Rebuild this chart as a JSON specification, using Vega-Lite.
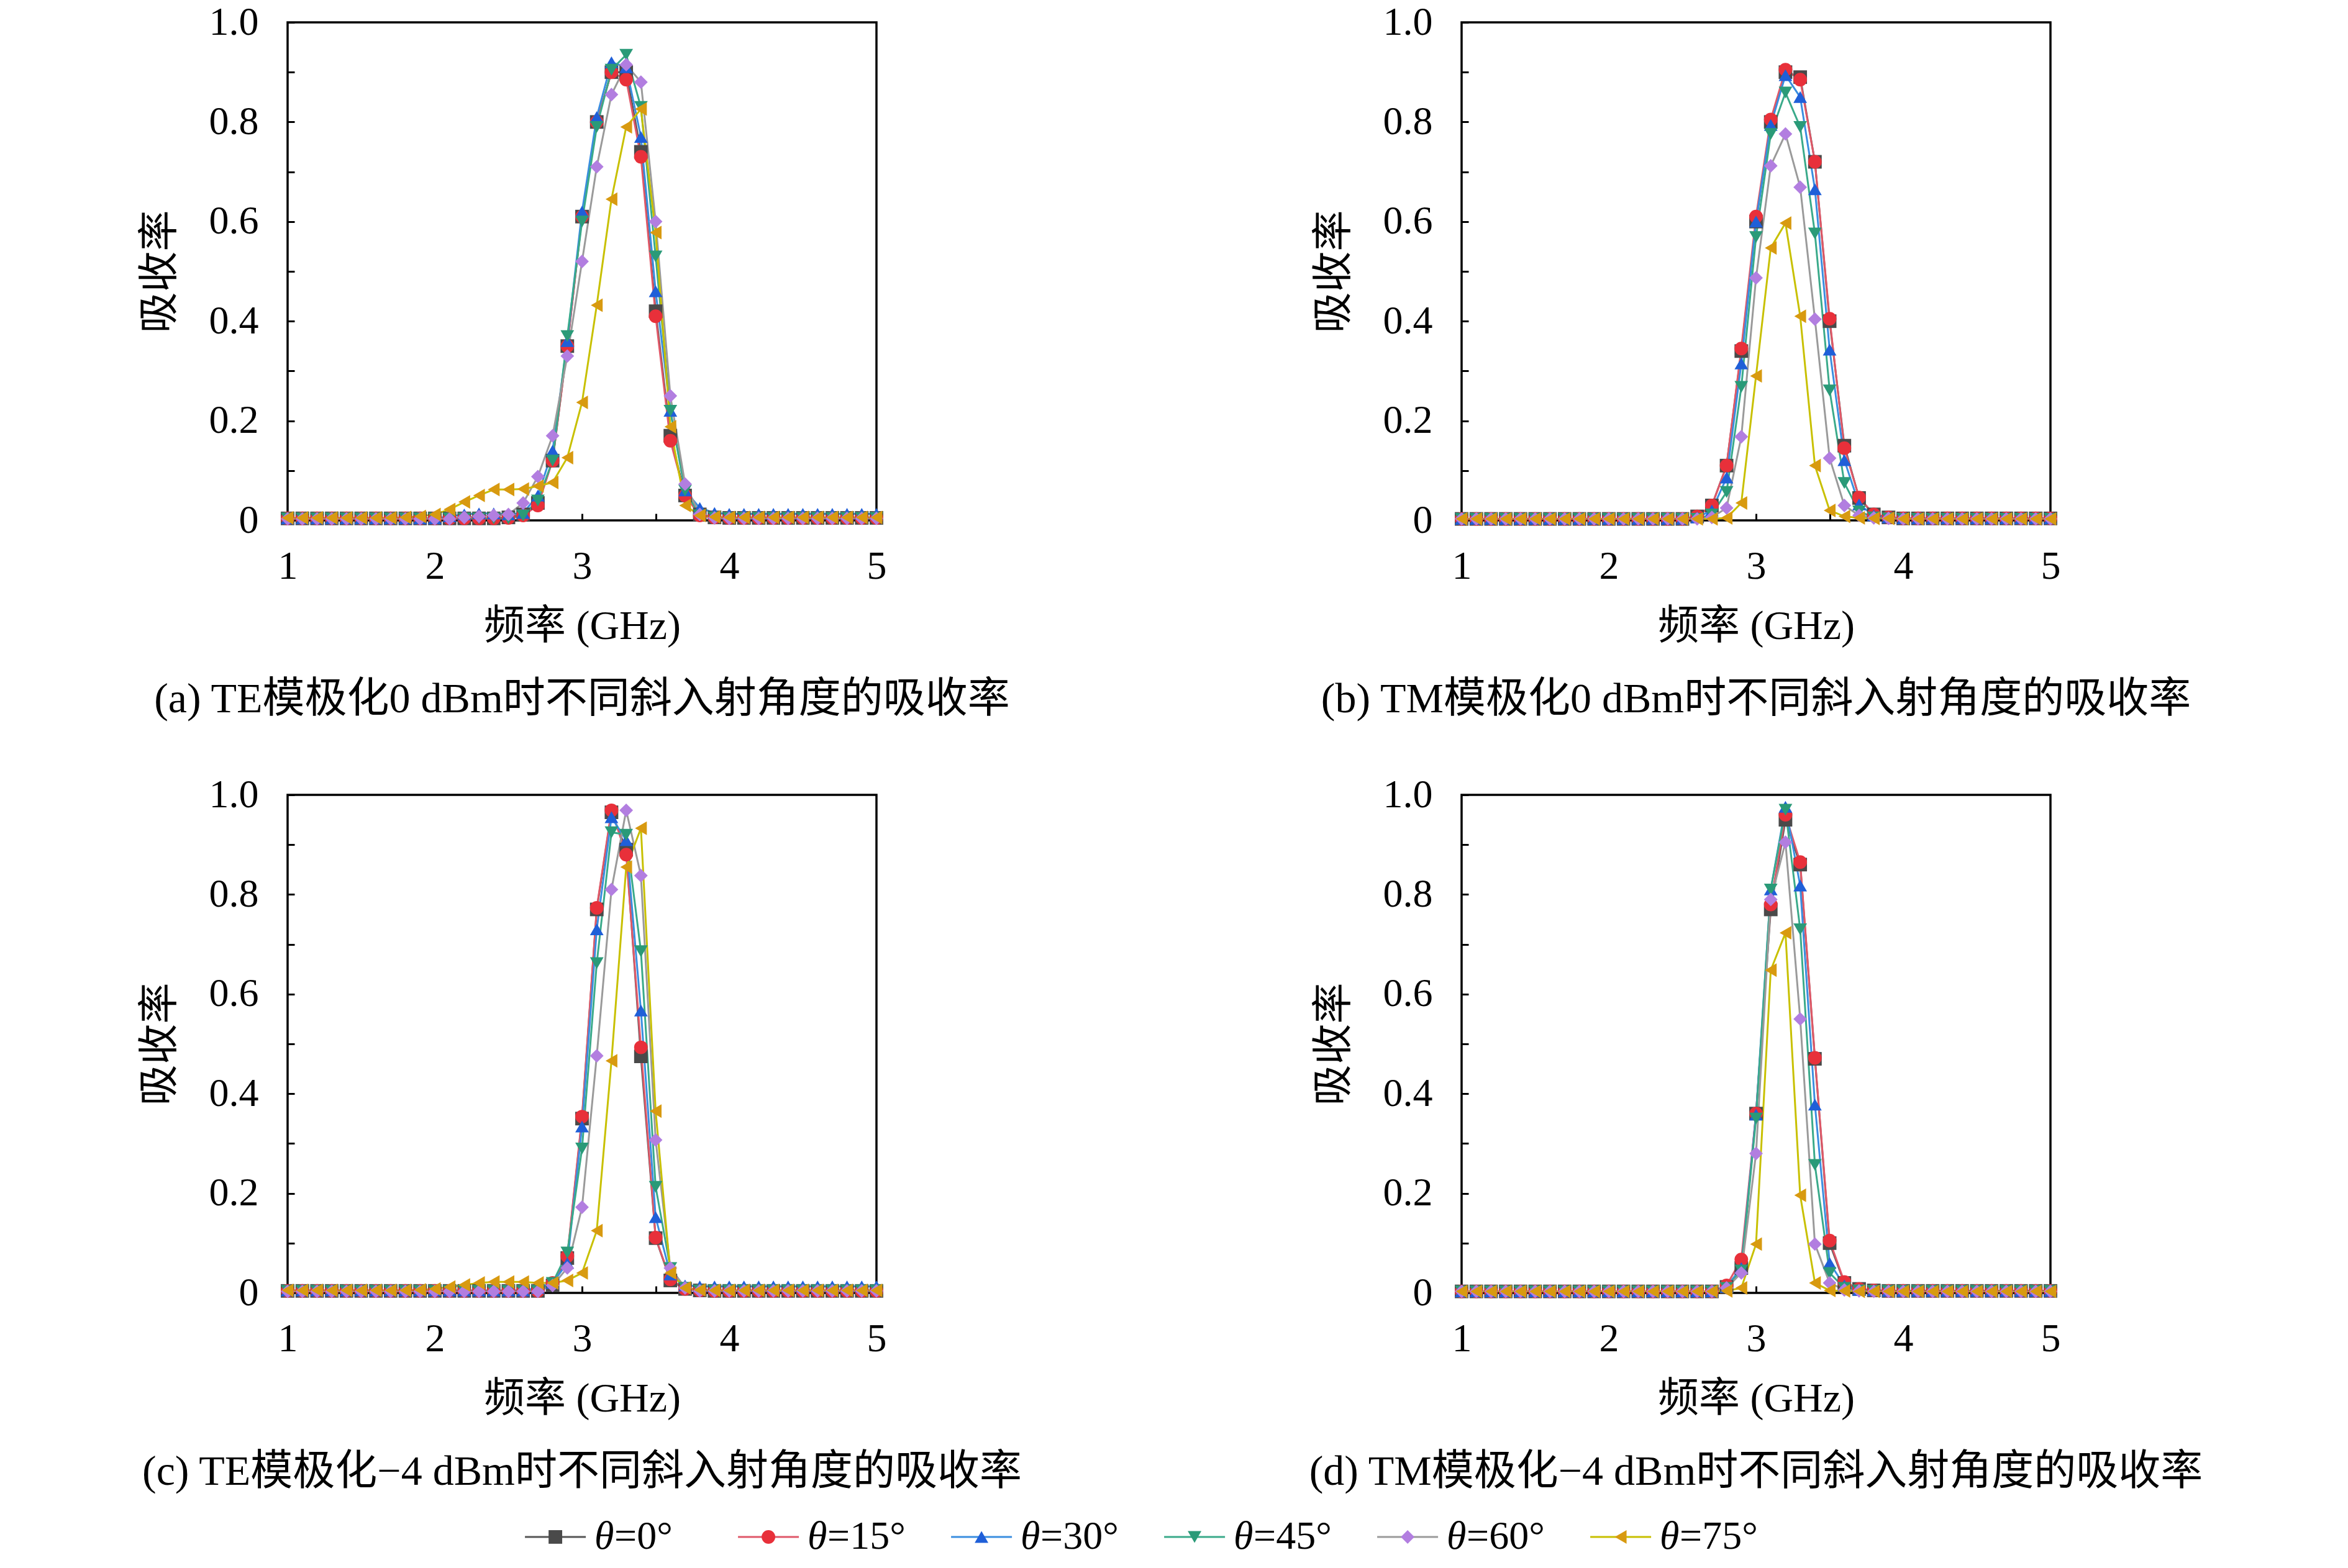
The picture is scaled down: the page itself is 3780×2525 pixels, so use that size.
{
  "$schema": "https://vega.github.io/schema/vega-lite/v6.json",
  "background": "white",
  "padding": {"left": 222, "top": 2, "right": 10, "bottom": 4},
  "config": {
    "font": "Liberation Serif, Noto Sans CJK SC",
    "view": {"stroke": "black", "strokeWidth": 3.5},
    "axis": {
      "grid": false, "domain": false,
      "tickColor": "black", "tickWidth": 3, "tickSize": -11,
      "labelFont": "Liberation Serif", "labelFontSize": 64, "labelColor": "black",
      "labelFlush": false, "labelOverlap": false,
      "titleFont": "Liberation Serif, Noto Sans CJK SC", "titleFontSize": 66,
      "titleFontWeight": "normal", "titleColor": "black"
    },
    "axisX": {"labelPadding": 53, "titlePadding": 32},
    "axisY": {"labelPadding": 58, "titlePadding": 45},
    "title": {"font": "Liberation Serif, Noto Sans CJK SC", "fontSize": 68, "fontWeight": "normal", "color": "black"}
  },
  "datasets": {
    "legend": [
      {"t":0,"rest":"=0°"},{"t":15,"rest":"=15°"},{"t":30,"rest":"=30°"},{"t":45,"rest":"=45°"},{"t":60,"rest":"=60°"},{"t":75,"rest":"=75°"}
    ],
    "a": [
      {"t":0,"f":1,"v":0.004},{"t":0,"f":1.1,"v":0.004},{"t":0,"f":1.2,"v":0.004},{"t":0,"f":1.3,"v":0.004},{"t":0,"f":1.4,"v":0.004},{"t":0,"f":1.5,"v":0.004},{"t":0,"f":1.6,"v":0.004},{"t":0,"f":1.7,"v":0.004},{"t":0,"f":1.8,"v":0.004},{"t":0,"f":1.9,"v":0.004},{"t":0,"f":2,"v":0.004},{"t":0,"f":2.1,"v":0.004},{"t":0,"f":2.2,"v":0.004},{"t":0,"f":2.3,"v":0.004},{"t":0,"f":2.4,"v":0.004},{"t":0,"f":2.5,"v":0.006},{"t":0,"f":2.6,"v":0.012},{"t":0,"f":2.7,"v":0.035},{"t":0,"f":2.8,"v":0.12},{"t":0,"f":2.9,"v":0.35},{"t":0,"f":3,"v":0.61},{"t":0,"f":3.1,"v":0.8},{"t":0,"f":3.2,"v":0.9},{"t":0,"f":3.3,"v":0.9},{"t":0,"f":3.4,"v":0.74},{"t":0,"f":3.5,"v":0.42},{"t":0,"f":3.6,"v":0.17},{"t":0,"f":3.7,"v":0.05},{"t":0,"f":3.8,"v":0.012},{"t":0,"f":3.9,"v":0.006},{"t":0,"f":4,"v":0.005},{"t":0,"f":4.1,"v":0.005},{"t":0,"f":4.2,"v":0.005},{"t":0,"f":4.3,"v":0.005},{"t":0,"f":4.4,"v":0.005},{"t":0,"f":4.5,"v":0.005},{"t":0,"f":4.6,"v":0.005},{"t":0,"f":4.7,"v":0.005},{"t":0,"f":4.8,"v":0.005},{"t":0,"f":4.9,"v":0.005},{"t":0,"f":5,"v":0.005},
      {"t":15,"f":1,"v":0.004},{"t":15,"f":1.1,"v":0.004},{"t":15,"f":1.2,"v":0.004},{"t":15,"f":1.3,"v":0.004},{"t":15,"f":1.4,"v":0.004},{"t":15,"f":1.5,"v":0.004},{"t":15,"f":1.6,"v":0.004},{"t":15,"f":1.7,"v":0.004},{"t":15,"f":1.8,"v":0.004},{"t":15,"f":1.9,"v":0.004},{"t":15,"f":2,"v":0.004},{"t":15,"f":2.1,"v":0.004},{"t":15,"f":2.2,"v":0.004},{"t":15,"f":2.3,"v":0.004},{"t":15,"f":2.4,"v":0.004},{"t":15,"f":2.5,"v":0.005},{"t":15,"f":2.6,"v":0.01},{"t":15,"f":2.7,"v":0.03},{"t":15,"f":2.8,"v":0.12},{"t":15,"f":2.9,"v":0.35},{"t":15,"f":3,"v":0.61},{"t":15,"f":3.1,"v":0.8},{"t":15,"f":3.2,"v":0.9},{"t":15,"f":3.3,"v":0.885},{"t":15,"f":3.4,"v":0.73},{"t":15,"f":3.5,"v":0.41},{"t":15,"f":3.6,"v":0.16},{"t":15,"f":3.7,"v":0.05},{"t":15,"f":3.8,"v":0.01},{"t":15,"f":3.9,"v":0.006},{"t":15,"f":4,"v":0.005},{"t":15,"f":4.1,"v":0.005},{"t":15,"f":4.2,"v":0.005},{"t":15,"f":4.3,"v":0.005},{"t":15,"f":4.4,"v":0.005},{"t":15,"f":4.5,"v":0.005},{"t":15,"f":4.6,"v":0.005},{"t":15,"f":4.7,"v":0.005},{"t":15,"f":4.8,"v":0.005},{"t":15,"f":4.9,"v":0.005},{"t":15,"f":5,"v":0.005},
      {"t":30,"f":1,"v":0.004},{"t":30,"f":1.1,"v":0.004},{"t":30,"f":1.2,"v":0.004},{"t":30,"f":1.3,"v":0.004},{"t":30,"f":1.4,"v":0.004},{"t":30,"f":1.5,"v":0.004},{"t":30,"f":1.6,"v":0.004},{"t":30,"f":1.7,"v":0.004},{"t":30,"f":1.8,"v":0.004},{"t":30,"f":1.9,"v":0.004},{"t":30,"f":2,"v":0.004},{"t":30,"f":2.1,"v":0.008},{"t":30,"f":2.2,"v":0.012},{"t":30,"f":2.3,"v":0.014},{"t":30,"f":2.4,"v":0.014},{"t":30,"f":2.5,"v":0.012},{"t":30,"f":2.6,"v":0.015},{"t":30,"f":2.7,"v":0.05},{"t":30,"f":2.8,"v":0.14},{"t":30,"f":2.9,"v":0.36},{"t":30,"f":3,"v":0.62},{"t":30,"f":3.1,"v":0.81},{"t":30,"f":3.2,"v":0.92},{"t":30,"f":3.3,"v":0.91},{"t":30,"f":3.4,"v":0.77},{"t":30,"f":3.5,"v":0.46},{"t":30,"f":3.6,"v":0.22},{"t":30,"f":3.7,"v":0.06},{"t":30,"f":3.8,"v":0.025},{"t":30,"f":3.9,"v":0.015},{"t":30,"f":4,"v":0.013},{"t":30,"f":4.1,"v":0.013},{"t":30,"f":4.2,"v":0.013},{"t":30,"f":4.3,"v":0.013},{"t":30,"f":4.4,"v":0.013},{"t":30,"f":4.5,"v":0.013},{"t":30,"f":4.6,"v":0.013},{"t":30,"f":4.7,"v":0.013},{"t":30,"f":4.8,"v":0.013},{"t":30,"f":4.9,"v":0.013},{"t":30,"f":5,"v":0.013},
      {"t":45,"f":1,"v":0.004},{"t":45,"f":1.1,"v":0.004},{"t":45,"f":1.2,"v":0.004},{"t":45,"f":1.3,"v":0.004},{"t":45,"f":1.4,"v":0.004},{"t":45,"f":1.5,"v":0.004},{"t":45,"f":1.6,"v":0.004},{"t":45,"f":1.7,"v":0.004},{"t":45,"f":1.8,"v":0.004},{"t":45,"f":1.9,"v":0.004},{"t":45,"f":2,"v":0.004},{"t":45,"f":2.1,"v":0.004},{"t":45,"f":2.2,"v":0.004},{"t":45,"f":2.3,"v":0.004},{"t":45,"f":2.4,"v":0.004},{"t":45,"f":2.5,"v":0.004},{"t":45,"f":2.6,"v":0.01},{"t":45,"f":2.7,"v":0.04},{"t":45,"f":2.8,"v":0.12},{"t":45,"f":2.9,"v":0.37},{"t":45,"f":3,"v":0.6},{"t":45,"f":3.1,"v":0.79},{"t":45,"f":3.2,"v":0.905},{"t":45,"f":3.3,"v":0.935},{"t":45,"f":3.4,"v":0.83},{"t":45,"f":3.5,"v":0.53},{"t":45,"f":3.6,"v":0.22},{"t":45,"f":3.7,"v":0.06},{"t":45,"f":3.8,"v":0.01},{"t":45,"f":3.9,"v":0.006},{"t":45,"f":4,"v":0.005},{"t":45,"f":4.1,"v":0.005},{"t":45,"f":4.2,"v":0.005},{"t":45,"f":4.3,"v":0.005},{"t":45,"f":4.4,"v":0.005},{"t":45,"f":4.5,"v":0.005},{"t":45,"f":4.6,"v":0.005},{"t":45,"f":4.7,"v":0.005},{"t":45,"f":4.8,"v":0.005},{"t":45,"f":4.9,"v":0.005},{"t":45,"f":5,"v":0.005},
      {"t":60,"f":1,"v":0.003},{"t":60,"f":1.1,"v":0.003},{"t":60,"f":1.2,"v":0.003},{"t":60,"f":1.3,"v":0.003},{"t":60,"f":1.4,"v":0.003},{"t":60,"f":1.5,"v":0.003},{"t":60,"f":1.6,"v":0.003},{"t":60,"f":1.7,"v":0.003},{"t":60,"f":1.8,"v":0.003},{"t":60,"f":1.9,"v":0.003},{"t":60,"f":2,"v":0.003},{"t":60,"f":2.1,"v":0.003},{"t":60,"f":2.2,"v":0.006},{"t":60,"f":2.3,"v":0.008},{"t":60,"f":2.4,"v":0.01},{"t":60,"f":2.5,"v":0.012},{"t":60,"f":2.6,"v":0.035},{"t":60,"f":2.7,"v":0.088},{"t":60,"f":2.8,"v":0.17},{"t":60,"f":2.9,"v":0.33},{"t":60,"f":3,"v":0.52},{"t":60,"f":3.1,"v":0.71},{"t":60,"f":3.2,"v":0.855},{"t":60,"f":3.3,"v":0.915},{"t":60,"f":3.4,"v":0.88},{"t":60,"f":3.5,"v":0.6},{"t":60,"f":3.6,"v":0.25},{"t":60,"f":3.7,"v":0.073},{"t":60,"f":3.8,"v":0.012},{"t":60,"f":3.9,"v":0.005},{"t":60,"f":4,"v":0.004},{"t":60,"f":4.1,"v":0.004},{"t":60,"f":4.2,"v":0.004},{"t":60,"f":4.3,"v":0.004},{"t":60,"f":4.4,"v":0.004},{"t":60,"f":4.5,"v":0.004},{"t":60,"f":4.6,"v":0.004},{"t":60,"f":4.7,"v":0.004},{"t":60,"f":4.8,"v":0.004},{"t":60,"f":4.9,"v":0.004},{"t":60,"f":5,"v":0.004},
      {"t":75,"f":1,"v":0.005},{"t":75,"f":1.1,"v":0.005},{"t":75,"f":1.2,"v":0.005},{"t":75,"f":1.3,"v":0.005},{"t":75,"f":1.4,"v":0.005},{"t":75,"f":1.5,"v":0.005},{"t":75,"f":1.6,"v":0.005},{"t":75,"f":1.7,"v":0.005},{"t":75,"f":1.8,"v":0.006},{"t":75,"f":1.9,"v":0.008},{"t":75,"f":2,"v":0.012},{"t":75,"f":2.1,"v":0.022},{"t":75,"f":2.2,"v":0.037},{"t":75,"f":2.3,"v":0.05},{"t":75,"f":2.4,"v":0.062},{"t":75,"f":2.5,"v":0.062},{"t":75,"f":2.6,"v":0.063},{"t":75,"f":2.7,"v":0.069},{"t":75,"f":2.8,"v":0.076},{"t":75,"f":2.9,"v":0.126},{"t":75,"f":3,"v":0.237},{"t":75,"f":3.1,"v":0.432},{"t":75,"f":3.2,"v":0.645},{"t":75,"f":3.3,"v":0.79},{"t":75,"f":3.4,"v":0.826},{"t":75,"f":3.5,"v":0.578},{"t":75,"f":3.6,"v":0.188},{"t":75,"f":3.7,"v":0.03},{"t":75,"f":3.8,"v":0.01},{"t":75,"f":3.9,"v":0.007},{"t":75,"f":4,"v":0.006},{"t":75,"f":4.1,"v":0.006},{"t":75,"f":4.2,"v":0.006},{"t":75,"f":4.3,"v":0.006},{"t":75,"f":4.4,"v":0.006},{"t":75,"f":4.5,"v":0.006},{"t":75,"f":4.6,"v":0.006},{"t":75,"f":4.7,"v":0.006},{"t":75,"f":4.8,"v":0.006},{"t":75,"f":4.9,"v":0.006},{"t":75,"f":5,"v":0.006}
    ],
    "b": [
      {"t":0,"f":1,"v":0.003},{"t":0,"f":1.1,"v":0.003},{"t":0,"f":1.2,"v":0.003},{"t":0,"f":1.3,"v":0.003},{"t":0,"f":1.4,"v":0.003},{"t":0,"f":1.5,"v":0.003},{"t":0,"f":1.6,"v":0.003},{"t":0,"f":1.7,"v":0.003},{"t":0,"f":1.8,"v":0.003},{"t":0,"f":1.9,"v":0.003},{"t":0,"f":2,"v":0.003},{"t":0,"f":2.1,"v":0.003},{"t":0,"f":2.2,"v":0.003},{"t":0,"f":2.3,"v":0.003},{"t":0,"f":2.4,"v":0.003},{"t":0,"f":2.5,"v":0.003},{"t":0,"f":2.6,"v":0.008},{"t":0,"f":2.7,"v":0.03},{"t":0,"f":2.8,"v":0.11},{"t":0,"f":2.9,"v":0.34},{"t":0,"f":3,"v":0.6},{"t":0,"f":3.1,"v":0.8},{"t":0,"f":3.2,"v":0.9},{"t":0,"f":3.3,"v":0.89},{"t":0,"f":3.4,"v":0.72},{"t":0,"f":3.5,"v":0.4},{"t":0,"f":3.6,"v":0.15},{"t":0,"f":3.7,"v":0.045},{"t":0,"f":3.8,"v":0.012},{"t":0,"f":3.9,"v":0.006},{"t":0,"f":4,"v":0.004},{"t":0,"f":4.1,"v":0.004},{"t":0,"f":4.2,"v":0.004},{"t":0,"f":4.3,"v":0.004},{"t":0,"f":4.4,"v":0.004},{"t":0,"f":4.5,"v":0.004},{"t":0,"f":4.6,"v":0.004},{"t":0,"f":4.7,"v":0.004},{"t":0,"f":4.8,"v":0.004},{"t":0,"f":4.9,"v":0.004},{"t":0,"f":5,"v":0.004},
      {"t":15,"f":1,"v":0.003},{"t":15,"f":1.1,"v":0.003},{"t":15,"f":1.2,"v":0.003},{"t":15,"f":1.3,"v":0.003},{"t":15,"f":1.4,"v":0.003},{"t":15,"f":1.5,"v":0.003},{"t":15,"f":1.6,"v":0.003},{"t":15,"f":1.7,"v":0.003},{"t":15,"f":1.8,"v":0.003},{"t":15,"f":1.9,"v":0.003},{"t":15,"f":2,"v":0.003},{"t":15,"f":2.1,"v":0.003},{"t":15,"f":2.2,"v":0.003},{"t":15,"f":2.3,"v":0.003},{"t":15,"f":2.4,"v":0.003},{"t":15,"f":2.5,"v":0.003},{"t":15,"f":2.6,"v":0.008},{"t":15,"f":2.7,"v":0.03},{"t":15,"f":2.8,"v":0.11},{"t":15,"f":2.9,"v":0.345},{"t":15,"f":3,"v":0.61},{"t":15,"f":3.1,"v":0.805},{"t":15,"f":3.2,"v":0.905},{"t":15,"f":3.3,"v":0.885},{"t":15,"f":3.4,"v":0.72},{"t":15,"f":3.5,"v":0.405},{"t":15,"f":3.6,"v":0.145},{"t":15,"f":3.7,"v":0.046},{"t":15,"f":3.8,"v":0.012},{"t":15,"f":3.9,"v":0.006},{"t":15,"f":4,"v":0.004},{"t":15,"f":4.1,"v":0.004},{"t":15,"f":4.2,"v":0.004},{"t":15,"f":4.3,"v":0.004},{"t":15,"f":4.4,"v":0.004},{"t":15,"f":4.5,"v":0.004},{"t":15,"f":4.6,"v":0.004},{"t":15,"f":4.7,"v":0.004},{"t":15,"f":4.8,"v":0.004},{"t":15,"f":4.9,"v":0.004},{"t":15,"f":5,"v":0.004},
      {"t":30,"f":1,"v":0.003},{"t":30,"f":1.1,"v":0.003},{"t":30,"f":1.2,"v":0.003},{"t":30,"f":1.3,"v":0.003},{"t":30,"f":1.4,"v":0.003},{"t":30,"f":1.5,"v":0.003},{"t":30,"f":1.6,"v":0.003},{"t":30,"f":1.7,"v":0.003},{"t":30,"f":1.8,"v":0.003},{"t":30,"f":1.9,"v":0.003},{"t":30,"f":2,"v":0.003},{"t":30,"f":2.1,"v":0.003},{"t":30,"f":2.2,"v":0.003},{"t":30,"f":2.3,"v":0.003},{"t":30,"f":2.4,"v":0.003},{"t":30,"f":2.5,"v":0.003},{"t":30,"f":2.6,"v":0.006},{"t":30,"f":2.7,"v":0.02},{"t":30,"f":2.8,"v":0.086},{"t":30,"f":2.9,"v":0.315},{"t":30,"f":3,"v":0.6},{"t":30,"f":3.1,"v":0.794},{"t":30,"f":3.2,"v":0.894},{"t":30,"f":3.3,"v":0.85},{"t":30,"f":3.4,"v":0.665},{"t":30,"f":3.5,"v":0.343},{"t":30,"f":3.6,"v":0.121},{"t":30,"f":3.7,"v":0.032},{"t":30,"f":3.8,"v":0.01},{"t":30,"f":3.9,"v":0.006},{"t":30,"f":4,"v":0.004},{"t":30,"f":4.1,"v":0.004},{"t":30,"f":4.2,"v":0.004},{"t":30,"f":4.3,"v":0.004},{"t":30,"f":4.4,"v":0.004},{"t":30,"f":4.5,"v":0.004},{"t":30,"f":4.6,"v":0.004},{"t":30,"f":4.7,"v":0.004},{"t":30,"f":4.8,"v":0.004},{"t":30,"f":4.9,"v":0.004},{"t":30,"f":5,"v":0.004},
      {"t":45,"f":1,"v":0.003},{"t":45,"f":1.1,"v":0.003},{"t":45,"f":1.2,"v":0.003},{"t":45,"f":1.3,"v":0.003},{"t":45,"f":1.4,"v":0.003},{"t":45,"f":1.5,"v":0.003},{"t":45,"f":1.6,"v":0.003},{"t":45,"f":1.7,"v":0.003},{"t":45,"f":1.8,"v":0.003},{"t":45,"f":1.9,"v":0.003},{"t":45,"f":2,"v":0.003},{"t":45,"f":2.1,"v":0.003},{"t":45,"f":2.2,"v":0.003},{"t":45,"f":2.3,"v":0.003},{"t":45,"f":2.4,"v":0.003},{"t":45,"f":2.5,"v":0.003},{"t":45,"f":2.6,"v":0.003},{"t":45,"f":2.7,"v":0.012},{"t":45,"f":2.8,"v":0.057},{"t":45,"f":2.9,"v":0.268},{"t":45,"f":3,"v":0.569},{"t":45,"f":3.1,"v":0.776},{"t":45,"f":3.2,"v":0.859},{"t":45,"f":3.3,"v":0.79},{"t":45,"f":3.4,"v":0.576},{"t":45,"f":3.5,"v":0.261},{"t":45,"f":3.6,"v":0.075},{"t":45,"f":3.7,"v":0.018},{"t":45,"f":3.8,"v":0.006},{"t":45,"f":3.9,"v":0.004},{"t":45,"f":4,"v":0.003},{"t":45,"f":4.1,"v":0.003},{"t":45,"f":4.2,"v":0.003},{"t":45,"f":4.3,"v":0.003},{"t":45,"f":4.4,"v":0.003},{"t":45,"f":4.5,"v":0.003},{"t":45,"f":4.6,"v":0.003},{"t":45,"f":4.7,"v":0.003},{"t":45,"f":4.8,"v":0.003},{"t":45,"f":4.9,"v":0.003},{"t":45,"f":5,"v":0.003},
      {"t":60,"f":1,"v":0.003},{"t":60,"f":1.1,"v":0.003},{"t":60,"f":1.2,"v":0.003},{"t":60,"f":1.3,"v":0.003},{"t":60,"f":1.4,"v":0.003},{"t":60,"f":1.5,"v":0.003},{"t":60,"f":1.6,"v":0.003},{"t":60,"f":1.7,"v":0.003},{"t":60,"f":1.8,"v":0.003},{"t":60,"f":1.9,"v":0.003},{"t":60,"f":2,"v":0.003},{"t":60,"f":2.1,"v":0.003},{"t":60,"f":2.2,"v":0.003},{"t":60,"f":2.3,"v":0.003},{"t":60,"f":2.4,"v":0.003},{"t":60,"f":2.5,"v":0.003},{"t":60,"f":2.6,"v":0.003},{"t":60,"f":2.7,"v":0.006},{"t":60,"f":2.8,"v":0.025},{"t":60,"f":2.9,"v":0.168},{"t":60,"f":3,"v":0.487},{"t":60,"f":3.1,"v":0.712},{"t":60,"f":3.2,"v":0.776},{"t":60,"f":3.3,"v":0.669},{"t":60,"f":3.4,"v":0.404},{"t":60,"f":3.5,"v":0.125},{"t":60,"f":3.6,"v":0.03},{"t":60,"f":3.7,"v":0.01},{"t":60,"f":3.8,"v":0.005},{"t":60,"f":3.9,"v":0.004},{"t":60,"f":4,"v":0.003},{"t":60,"f":4.1,"v":0.003},{"t":60,"f":4.2,"v":0.003},{"t":60,"f":4.3,"v":0.003},{"t":60,"f":4.4,"v":0.003},{"t":60,"f":4.5,"v":0.003},{"t":60,"f":4.6,"v":0.003},{"t":60,"f":4.7,"v":0.003},{"t":60,"f":4.8,"v":0.003},{"t":60,"f":4.9,"v":0.003},{"t":60,"f":5,"v":0.003},
      {"t":75,"f":1,"v":0.003},{"t":75,"f":1.1,"v":0.003},{"t":75,"f":1.2,"v":0.003},{"t":75,"f":1.3,"v":0.003},{"t":75,"f":1.4,"v":0.003},{"t":75,"f":1.5,"v":0.003},{"t":75,"f":1.6,"v":0.003},{"t":75,"f":1.7,"v":0.003},{"t":75,"f":1.8,"v":0.003},{"t":75,"f":1.9,"v":0.003},{"t":75,"f":2,"v":0.003},{"t":75,"f":2.1,"v":0.003},{"t":75,"f":2.2,"v":0.003},{"t":75,"f":2.3,"v":0.003},{"t":75,"f":2.4,"v":0.003},{"t":75,"f":2.5,"v":0.003},{"t":75,"f":2.6,"v":0.003},{"t":75,"f":2.7,"v":0.003},{"t":75,"f":2.8,"v":0.005},{"t":75,"f":2.9,"v":0.035},{"t":75,"f":3,"v":0.29},{"t":75,"f":3.1,"v":0.547},{"t":75,"f":3.2,"v":0.597},{"t":75,"f":3.3,"v":0.41},{"t":75,"f":3.4,"v":0.11},{"t":75,"f":3.5,"v":0.02},{"t":75,"f":3.6,"v":0.008},{"t":75,"f":3.7,"v":0.005},{"t":75,"f":3.8,"v":0.004},{"t":75,"f":3.9,"v":0.004},{"t":75,"f":4,"v":0.003},{"t":75,"f":4.1,"v":0.003},{"t":75,"f":4.2,"v":0.003},{"t":75,"f":4.3,"v":0.003},{"t":75,"f":4.4,"v":0.003},{"t":75,"f":4.5,"v":0.003},{"t":75,"f":4.6,"v":0.003},{"t":75,"f":4.7,"v":0.003},{"t":75,"f":4.8,"v":0.003},{"t":75,"f":4.9,"v":0.003},{"t":75,"f":5,"v":0.003}
    ],
    "c": [
      {"t":0,"f":1,"v":0.004},{"t":0,"f":1.1,"v":0.004},{"t":0,"f":1.2,"v":0.004},{"t":0,"f":1.3,"v":0.004},{"t":0,"f":1.4,"v":0.004},{"t":0,"f":1.5,"v":0.004},{"t":0,"f":1.6,"v":0.004},{"t":0,"f":1.7,"v":0.004},{"t":0,"f":1.8,"v":0.004},{"t":0,"f":1.9,"v":0.004},{"t":0,"f":2,"v":0.004},{"t":0,"f":2.1,"v":0.004},{"t":0,"f":2.2,"v":0.004},{"t":0,"f":2.3,"v":0.004},{"t":0,"f":2.4,"v":0.004},{"t":0,"f":2.5,"v":0.004},{"t":0,"f":2.6,"v":0.004},{"t":0,"f":2.7,"v":0.004},{"t":0,"f":2.8,"v":0.015},{"t":0,"f":2.9,"v":0.07},{"t":0,"f":3,"v":0.35},{"t":0,"f":3.1,"v":0.77},{"t":0,"f":3.2,"v":0.965},{"t":0,"f":3.3,"v":0.89},{"t":0,"f":3.4,"v":0.475},{"t":0,"f":3.5,"v":0.11},{"t":0,"f":3.6,"v":0.025},{"t":0,"f":3.7,"v":0.008},{"t":0,"f":3.8,"v":0.005},{"t":0,"f":3.9,"v":0.004},{"t":0,"f":4,"v":0.004},{"t":0,"f":4.1,"v":0.004},{"t":0,"f":4.2,"v":0.004},{"t":0,"f":4.3,"v":0.004},{"t":0,"f":4.4,"v":0.004},{"t":0,"f":4.5,"v":0.004},{"t":0,"f":4.6,"v":0.004},{"t":0,"f":4.7,"v":0.004},{"t":0,"f":4.8,"v":0.004},{"t":0,"f":4.9,"v":0.004},{"t":0,"f":5,"v":0.004},
      {"t":15,"f":1,"v":0.004},{"t":15,"f":1.1,"v":0.004},{"t":15,"f":1.2,"v":0.004},{"t":15,"f":1.3,"v":0.004},{"t":15,"f":1.4,"v":0.004},{"t":15,"f":1.5,"v":0.004},{"t":15,"f":1.6,"v":0.004},{"t":15,"f":1.7,"v":0.004},{"t":15,"f":1.8,"v":0.004},{"t":15,"f":1.9,"v":0.004},{"t":15,"f":2,"v":0.004},{"t":15,"f":2.1,"v":0.004},{"t":15,"f":2.2,"v":0.004},{"t":15,"f":2.3,"v":0.004},{"t":15,"f":2.4,"v":0.004},{"t":15,"f":2.5,"v":0.004},{"t":15,"f":2.6,"v":0.004},{"t":15,"f":2.7,"v":0.004},{"t":15,"f":2.8,"v":0.02},{"t":15,"f":2.9,"v":0.074},{"t":15,"f":3,"v":0.354},{"t":15,"f":3.1,"v":0.773},{"t":15,"f":3.2,"v":0.969},{"t":15,"f":3.3,"v":0.88},{"t":15,"f":3.4,"v":0.493},{"t":15,"f":3.5,"v":0.111},{"t":15,"f":3.6,"v":0.027},{"t":15,"f":3.7,"v":0.008},{"t":15,"f":3.8,"v":0.005},{"t":15,"f":3.9,"v":0.004},{"t":15,"f":4,"v":0.004},{"t":15,"f":4.1,"v":0.004},{"t":15,"f":4.2,"v":0.004},{"t":15,"f":4.3,"v":0.004},{"t":15,"f":4.4,"v":0.004},{"t":15,"f":4.5,"v":0.004},{"t":15,"f":4.6,"v":0.004},{"t":15,"f":4.7,"v":0.004},{"t":15,"f":4.8,"v":0.004},{"t":15,"f":4.9,"v":0.004},{"t":15,"f":5,"v":0.004},
      {"t":30,"f":1,"v":0.005},{"t":30,"f":1.1,"v":0.005},{"t":30,"f":1.2,"v":0.005},{"t":30,"f":1.3,"v":0.005},{"t":30,"f":1.4,"v":0.005},{"t":30,"f":1.5,"v":0.005},{"t":30,"f":1.6,"v":0.005},{"t":30,"f":1.7,"v":0.005},{"t":30,"f":1.8,"v":0.005},{"t":30,"f":1.9,"v":0.005},{"t":30,"f":2,"v":0.005},{"t":30,"f":2.1,"v":0.005},{"t":30,"f":2.2,"v":0.005},{"t":30,"f":2.3,"v":0.005},{"t":30,"f":2.4,"v":0.005},{"t":30,"f":2.5,"v":0.005},{"t":30,"f":2.6,"v":0.005},{"t":30,"f":2.7,"v":0.01},{"t":30,"f":2.8,"v":0.02},{"t":30,"f":2.9,"v":0.06},{"t":30,"f":3,"v":0.334},{"t":30,"f":3.1,"v":0.73},{"t":30,"f":3.2,"v":0.955},{"t":30,"f":3.3,"v":0.909},{"t":30,"f":3.4,"v":0.567},{"t":30,"f":3.5,"v":0.152},{"t":30,"f":3.6,"v":0.037},{"t":30,"f":3.7,"v":0.015},{"t":30,"f":3.8,"v":0.013},{"t":30,"f":3.9,"v":0.013},{"t":30,"f":4,"v":0.013},{"t":30,"f":4.1,"v":0.013},{"t":30,"f":4.2,"v":0.013},{"t":30,"f":4.3,"v":0.013},{"t":30,"f":4.4,"v":0.013},{"t":30,"f":4.5,"v":0.013},{"t":30,"f":4.6,"v":0.013},{"t":30,"f":4.7,"v":0.013},{"t":30,"f":4.8,"v":0.013},{"t":30,"f":4.9,"v":0.013},{"t":30,"f":5,"v":0.013},
      {"t":45,"f":1,"v":0.004},{"t":45,"f":1.1,"v":0.004},{"t":45,"f":1.2,"v":0.004},{"t":45,"f":1.3,"v":0.004},{"t":45,"f":1.4,"v":0.004},{"t":45,"f":1.5,"v":0.004},{"t":45,"f":1.6,"v":0.004},{"t":45,"f":1.7,"v":0.004},{"t":45,"f":1.8,"v":0.004},{"t":45,"f":1.9,"v":0.004},{"t":45,"f":2,"v":0.004},{"t":45,"f":2.1,"v":0.004},{"t":45,"f":2.2,"v":0.004},{"t":45,"f":2.3,"v":0.004},{"t":45,"f":2.4,"v":0.004},{"t":45,"f":2.5,"v":0.004},{"t":45,"f":2.6,"v":0.004},{"t":45,"f":2.7,"v":0.004},{"t":45,"f":2.8,"v":0.02},{"t":45,"f":2.9,"v":0.081},{"t":45,"f":3,"v":0.29},{"t":45,"f":3.1,"v":0.662},{"t":45,"f":3.2,"v":0.925},{"t":45,"f":3.3,"v":0.92},{"t":45,"f":3.4,"v":0.686},{"t":45,"f":3.5,"v":0.213},{"t":45,"f":3.6,"v":0.05},{"t":45,"f":3.7,"v":0.01},{"t":45,"f":3.8,"v":0.005},{"t":45,"f":3.9,"v":0.005},{"t":45,"f":4,"v":0.005},{"t":45,"f":4.1,"v":0.005},{"t":45,"f":4.2,"v":0.005},{"t":45,"f":4.3,"v":0.005},{"t":45,"f":4.4,"v":0.005},{"t":45,"f":4.5,"v":0.005},{"t":45,"f":4.6,"v":0.005},{"t":45,"f":4.7,"v":0.005},{"t":45,"f":4.8,"v":0.005},{"t":45,"f":4.9,"v":0.005},{"t":45,"f":5,"v":0.005},
      {"t":60,"f":1,"v":0.003},{"t":60,"f":1.1,"v":0.003},{"t":60,"f":1.2,"v":0.003},{"t":60,"f":1.3,"v":0.003},{"t":60,"f":1.4,"v":0.003},{"t":60,"f":1.5,"v":0.003},{"t":60,"f":1.6,"v":0.003},{"t":60,"f":1.7,"v":0.003},{"t":60,"f":1.8,"v":0.003},{"t":60,"f":1.9,"v":0.003},{"t":60,"f":2,"v":0.003},{"t":60,"f":2.1,"v":0.003},{"t":60,"f":2.2,"v":0.003},{"t":60,"f":2.3,"v":0.003},{"t":60,"f":2.4,"v":0.003},{"t":60,"f":2.5,"v":0.003},{"t":60,"f":2.6,"v":0.003},{"t":60,"f":2.7,"v":0.003},{"t":60,"f":2.8,"v":0.015},{"t":60,"f":2.9,"v":0.05},{"t":60,"f":3,"v":0.172},{"t":60,"f":3.1,"v":0.476},{"t":60,"f":3.2,"v":0.81},{"t":60,"f":3.3,"v":0.969},{"t":60,"f":3.4,"v":0.838},{"t":60,"f":3.5,"v":0.307},{"t":60,"f":3.6,"v":0.05},{"t":60,"f":3.7,"v":0.01},{"t":60,"f":3.8,"v":0.004},{"t":60,"f":3.9,"v":0.004},{"t":60,"f":4,"v":0.004},{"t":60,"f":4.1,"v":0.004},{"t":60,"f":4.2,"v":0.004},{"t":60,"f":4.3,"v":0.004},{"t":60,"f":4.4,"v":0.004},{"t":60,"f":4.5,"v":0.004},{"t":60,"f":4.6,"v":0.004},{"t":60,"f":4.7,"v":0.004},{"t":60,"f":4.8,"v":0.004},{"t":60,"f":4.9,"v":0.004},{"t":60,"f":5,"v":0.004},
      {"t":75,"f":1,"v":0.005},{"t":75,"f":1.1,"v":0.005},{"t":75,"f":1.2,"v":0.005},{"t":75,"f":1.3,"v":0.005},{"t":75,"f":1.4,"v":0.005},{"t":75,"f":1.5,"v":0.005},{"t":75,"f":1.6,"v":0.005},{"t":75,"f":1.7,"v":0.005},{"t":75,"f":1.8,"v":0.005},{"t":75,"f":1.9,"v":0.006},{"t":75,"f":2,"v":0.008},{"t":75,"f":2.1,"v":0.012},{"t":75,"f":2.2,"v":0.016},{"t":75,"f":2.3,"v":0.02},{"t":75,"f":2.4,"v":0.022},{"t":75,"f":2.5,"v":0.022},{"t":75,"f":2.6,"v":0.022},{"t":75,"f":2.7,"v":0.02},{"t":75,"f":2.8,"v":0.02},{"t":75,"f":2.9,"v":0.025},{"t":75,"f":3,"v":0.04},{"t":75,"f":3.1,"v":0.125},{"t":75,"f":3.2,"v":0.466},{"t":75,"f":3.3,"v":0.855},{"t":75,"f":3.4,"v":0.933},{"t":75,"f":3.5,"v":0.365},{"t":75,"f":3.6,"v":0.04},{"t":75,"f":3.7,"v":0.01},{"t":75,"f":3.8,"v":0.006},{"t":75,"f":3.9,"v":0.005},{"t":75,"f":4,"v":0.005},{"t":75,"f":4.1,"v":0.005},{"t":75,"f":4.2,"v":0.005},{"t":75,"f":4.3,"v":0.005},{"t":75,"f":4.4,"v":0.005},{"t":75,"f":4.5,"v":0.005},{"t":75,"f":4.6,"v":0.005},{"t":75,"f":4.7,"v":0.005},{"t":75,"f":4.8,"v":0.005},{"t":75,"f":4.9,"v":0.005},{"t":75,"f":5,"v":0.005}
    ],
    "d": [
      {"t":0,"f":1,"v":0.003},{"t":0,"f":1.1,"v":0.003},{"t":0,"f":1.2,"v":0.003},{"t":0,"f":1.3,"v":0.003},{"t":0,"f":1.4,"v":0.003},{"t":0,"f":1.5,"v":0.003},{"t":0,"f":1.6,"v":0.003},{"t":0,"f":1.7,"v":0.003},{"t":0,"f":1.8,"v":0.003},{"t":0,"f":1.9,"v":0.003},{"t":0,"f":2,"v":0.003},{"t":0,"f":2.1,"v":0.003},{"t":0,"f":2.2,"v":0.003},{"t":0,"f":2.3,"v":0.003},{"t":0,"f":2.4,"v":0.003},{"t":0,"f":2.5,"v":0.003},{"t":0,"f":2.6,"v":0.003},{"t":0,"f":2.7,"v":0.003},{"t":0,"f":2.8,"v":0.012},{"t":0,"f":2.9,"v":0.05},{"t":0,"f":3,"v":0.36},{"t":0,"f":3.1,"v":0.77},{"t":0,"f":3.2,"v":0.95},{"t":0,"f":3.3,"v":0.86},{"t":0,"f":3.4,"v":0.47},{"t":0,"f":3.5,"v":0.1},{"t":0,"f":3.6,"v":0.02},{"t":0,"f":3.7,"v":0.008},{"t":0,"f":3.8,"v":0.005},{"t":0,"f":3.9,"v":0.004},{"t":0,"f":4,"v":0.004},{"t":0,"f":4.1,"v":0.004},{"t":0,"f":4.2,"v":0.004},{"t":0,"f":4.3,"v":0.004},{"t":0,"f":4.4,"v":0.004},{"t":0,"f":4.5,"v":0.004},{"t":0,"f":4.6,"v":0.004},{"t":0,"f":4.7,"v":0.004},{"t":0,"f":4.8,"v":0.004},{"t":0,"f":4.9,"v":0.004},{"t":0,"f":5,"v":0.004},
      {"t":15,"f":1,"v":0.003},{"t":15,"f":1.1,"v":0.003},{"t":15,"f":1.2,"v":0.003},{"t":15,"f":1.3,"v":0.003},{"t":15,"f":1.4,"v":0.003},{"t":15,"f":1.5,"v":0.003},{"t":15,"f":1.6,"v":0.003},{"t":15,"f":1.7,"v":0.003},{"t":15,"f":1.8,"v":0.003},{"t":15,"f":1.9,"v":0.003},{"t":15,"f":2,"v":0.003},{"t":15,"f":2.1,"v":0.003},{"t":15,"f":2.2,"v":0.003},{"t":15,"f":2.3,"v":0.003},{"t":15,"f":2.4,"v":0.003},{"t":15,"f":2.5,"v":0.003},{"t":15,"f":2.6,"v":0.003},{"t":15,"f":2.7,"v":0.003},{"t":15,"f":2.8,"v":0.015},{"t":15,"f":2.9,"v":0.067},{"t":15,"f":3,"v":0.36},{"t":15,"f":3.1,"v":0.78},{"t":15,"f":3.2,"v":0.96},{"t":15,"f":3.3,"v":0.865},{"t":15,"f":3.4,"v":0.472},{"t":15,"f":3.5,"v":0.105},{"t":15,"f":3.6,"v":0.022},{"t":15,"f":3.7,"v":0.008},{"t":15,"f":3.8,"v":0.005},{"t":15,"f":3.9,"v":0.004},{"t":15,"f":4,"v":0.004},{"t":15,"f":4.1,"v":0.004},{"t":15,"f":4.2,"v":0.004},{"t":15,"f":4.3,"v":0.004},{"t":15,"f":4.4,"v":0.004},{"t":15,"f":4.5,"v":0.004},{"t":15,"f":4.6,"v":0.004},{"t":15,"f":4.7,"v":0.004},{"t":15,"f":4.8,"v":0.004},{"t":15,"f":4.9,"v":0.004},{"t":15,"f":5,"v":0.004},
      {"t":30,"f":1,"v":0.003},{"t":30,"f":1.1,"v":0.003},{"t":30,"f":1.2,"v":0.003},{"t":30,"f":1.3,"v":0.003},{"t":30,"f":1.4,"v":0.003},{"t":30,"f":1.5,"v":0.003},{"t":30,"f":1.6,"v":0.003},{"t":30,"f":1.7,"v":0.003},{"t":30,"f":1.8,"v":0.003},{"t":30,"f":1.9,"v":0.003},{"t":30,"f":2,"v":0.003},{"t":30,"f":2.1,"v":0.003},{"t":30,"f":2.2,"v":0.003},{"t":30,"f":2.3,"v":0.003},{"t":30,"f":2.4,"v":0.003},{"t":30,"f":2.5,"v":0.003},{"t":30,"f":2.6,"v":0.003},{"t":30,"f":2.7,"v":0.003},{"t":30,"f":2.8,"v":0.012},{"t":30,"f":2.9,"v":0.05},{"t":30,"f":3,"v":0.358},{"t":30,"f":3.1,"v":0.81},{"t":30,"f":3.2,"v":0.976},{"t":30,"f":3.3,"v":0.818},{"t":30,"f":3.4,"v":0.378},{"t":30,"f":3.5,"v":0.06},{"t":30,"f":3.6,"v":0.015},{"t":30,"f":3.7,"v":0.006},{"t":30,"f":3.8,"v":0.005},{"t":30,"f":3.9,"v":0.004},{"t":30,"f":4,"v":0.004},{"t":30,"f":4.1,"v":0.004},{"t":30,"f":4.2,"v":0.004},{"t":30,"f":4.3,"v":0.004},{"t":30,"f":4.4,"v":0.004},{"t":30,"f":4.5,"v":0.004},{"t":30,"f":4.6,"v":0.004},{"t":30,"f":4.7,"v":0.004},{"t":30,"f":4.8,"v":0.004},{"t":30,"f":4.9,"v":0.004},{"t":30,"f":5,"v":0.004},
      {"t":45,"f":1,"v":0.003},{"t":45,"f":1.1,"v":0.003},{"t":45,"f":1.2,"v":0.003},{"t":45,"f":1.3,"v":0.003},{"t":45,"f":1.4,"v":0.003},{"t":45,"f":1.5,"v":0.003},{"t":45,"f":1.6,"v":0.003},{"t":45,"f":1.7,"v":0.003},{"t":45,"f":1.8,"v":0.003},{"t":45,"f":1.9,"v":0.003},{"t":45,"f":2,"v":0.003},{"t":45,"f":2.1,"v":0.003},{"t":45,"f":2.2,"v":0.003},{"t":45,"f":2.3,"v":0.003},{"t":45,"f":2.4,"v":0.003},{"t":45,"f":2.5,"v":0.003},{"t":45,"f":2.6,"v":0.003},{"t":45,"f":2.7,"v":0.003},{"t":45,"f":2.8,"v":0.01},{"t":45,"f":2.9,"v":0.045},{"t":45,"f":3,"v":0.35},{"t":45,"f":3.1,"v":0.81},{"t":45,"f":3.2,"v":0.97},{"t":45,"f":3.3,"v":0.73},{"t":45,"f":3.4,"v":0.257},{"t":45,"f":3.5,"v":0.04},{"t":45,"f":3.6,"v":0.01},{"t":45,"f":3.7,"v":0.005},{"t":45,"f":3.8,"v":0.004},{"t":45,"f":3.9,"v":0.004},{"t":45,"f":4,"v":0.004},{"t":45,"f":4.1,"v":0.004},{"t":45,"f":4.2,"v":0.004},{"t":45,"f":4.3,"v":0.004},{"t":45,"f":4.4,"v":0.004},{"t":45,"f":4.5,"v":0.004},{"t":45,"f":4.6,"v":0.004},{"t":45,"f":4.7,"v":0.004},{"t":45,"f":4.8,"v":0.004},{"t":45,"f":4.9,"v":0.004},{"t":45,"f":5,"v":0.004},
      {"t":60,"f":1,"v":0.003},{"t":60,"f":1.1,"v":0.003},{"t":60,"f":1.2,"v":0.003},{"t":60,"f":1.3,"v":0.003},{"t":60,"f":1.4,"v":0.003},{"t":60,"f":1.5,"v":0.003},{"t":60,"f":1.6,"v":0.003},{"t":60,"f":1.7,"v":0.003},{"t":60,"f":1.8,"v":0.003},{"t":60,"f":1.9,"v":0.003},{"t":60,"f":2,"v":0.003},{"t":60,"f":2.1,"v":0.003},{"t":60,"f":2.2,"v":0.003},{"t":60,"f":2.3,"v":0.003},{"t":60,"f":2.4,"v":0.003},{"t":60,"f":2.5,"v":0.003},{"t":60,"f":2.6,"v":0.003},{"t":60,"f":2.7,"v":0.003},{"t":60,"f":2.8,"v":0.01},{"t":60,"f":2.9,"v":0.04},{"t":60,"f":3,"v":0.28},{"t":60,"f":3.1,"v":0.79},{"t":60,"f":3.2,"v":0.905},{"t":60,"f":3.3,"v":0.55},{"t":60,"f":3.4,"v":0.098},{"t":60,"f":3.5,"v":0.02},{"t":60,"f":3.6,"v":0.006},{"t":60,"f":3.7,"v":0.004},{"t":60,"f":3.8,"v":0.003},{"t":60,"f":3.9,"v":0.003},{"t":60,"f":4,"v":0.003},{"t":60,"f":4.1,"v":0.003},{"t":60,"f":4.2,"v":0.003},{"t":60,"f":4.3,"v":0.003},{"t":60,"f":4.4,"v":0.003},{"t":60,"f":4.5,"v":0.003},{"t":60,"f":4.6,"v":0.003},{"t":60,"f":4.7,"v":0.003},{"t":60,"f":4.8,"v":0.003},{"t":60,"f":4.9,"v":0.003},{"t":60,"f":5,"v":0.003},
      {"t":75,"f":1,"v":0.003},{"t":75,"f":1.1,"v":0.003},{"t":75,"f":1.2,"v":0.003},{"t":75,"f":1.3,"v":0.003},{"t":75,"f":1.4,"v":0.003},{"t":75,"f":1.5,"v":0.003},{"t":75,"f":1.6,"v":0.003},{"t":75,"f":1.7,"v":0.003},{"t":75,"f":1.8,"v":0.003},{"t":75,"f":1.9,"v":0.003},{"t":75,"f":2,"v":0.003},{"t":75,"f":2.1,"v":0.003},{"t":75,"f":2.2,"v":0.003},{"t":75,"f":2.3,"v":0.003},{"t":75,"f":2.4,"v":0.003},{"t":75,"f":2.5,"v":0.003},{"t":75,"f":2.6,"v":0.003},{"t":75,"f":2.7,"v":0.003},{"t":75,"f":2.8,"v":0.004},{"t":75,"f":2.9,"v":0.01},{"t":75,"f":3,"v":0.098},{"t":75,"f":3.1,"v":0.648},{"t":75,"f":3.2,"v":0.723},{"t":75,"f":3.3,"v":0.196},{"t":75,"f":3.4,"v":0.02},{"t":75,"f":3.5,"v":0.005},{"t":75,"f":3.6,"v":0.004},{"t":75,"f":3.7,"v":0.003},{"t":75,"f":3.8,"v":0.003},{"t":75,"f":3.9,"v":0.003},{"t":75,"f":4,"v":0.003},{"t":75,"f":4.1,"v":0.003},{"t":75,"f":4.2,"v":0.003},{"t":75,"f":4.3,"v":0.003},{"t":75,"f":4.4,"v":0.003},{"t":75,"f":4.5,"v":0.003},{"t":75,"f":4.6,"v":0.003},{"t":75,"f":4.7,"v":0.003},{"t":75,"f":4.8,"v":0.003},{"t":75,"f":4.9,"v":0.003},{"t":75,"f":5,"v":0.003}
    ]
  },
  "spacing": 36,
  "vconcat": [
    {
      "spacing": 83,
      "vconcat": [
        {
          "bounds": "flush",
          "spacing": 942,
          "hconcat": [
            {
              "width": 948, "height": 802,
              "data": {"name": "a"},
              "title": {"text": "(a) TE模极化0 dBm时不同斜入射角度的吸收率", "orient": "bottom", "anchor": "middle", "offset": 52},
              "encoding": {
                "x": {"field": "f", "type": "quantitative", "scale": {"domain": [1, 5], "nice": false, "zero": false},
                      "axis": {"title": "频率 (GHz)", "values": [1, 1.5, 2, 2.5, 3, 3.5, 4, 4.5, 5], "labelExpr": "datum.value % 1 === 0 ? format(datum.value, 'd') : ''"}},
                "y": {"field": "v", "type": "quantitative", "scale": {"domain": [0, 1], "nice": false},
                      "axis": {"title": "吸收率", "values": [0, 0.1, 0.2, 0.3, 0.4, 0.5, 0.6, 0.7, 0.8, 0.9, 1], "labelExpr": "datum.value === 0 ? '0' : (round(datum.value * 10) % 2 === 0 ? format(datum.value, '.1f') : '')"}}
              },
              "layer": [
                {"mark": {"type": "line", "strokeWidth": 3},
                 "encoding": {"stroke": {"field": "t", "type": "nominal", "legend": null,
                   "scale": {"domain": [0, 15, 30, 45, 60, 75], "range": ["#555555", "#e05868", "#3a8ee0", "#3aaa8a", "#9a9a9a", "#c8c000"]}}}},
                {"mark": {"type": "point", "filled": true, "opacity": 1, "size": 480},
                 "encoding": {
                   "color": {"field": "t", "type": "nominal", "legend": null,
                     "scale": {"domain": [0, 15, 30, 45, 60, 75], "range": ["#4a4a4a", "#e8303a", "#1f5fd8", "#2a9a78", "#b27ee0", "#d89a10"]}},
                   "shape": {"field": "t", "type": "nominal", "legend": null,
                     "scale": {"domain": [0, 15, 30, 45, 60, 75], "range": ["square", "circle", "triangle-up", "triangle-down", "diamond", "triangle-left"]}}
                 }}
              ]
            },
            {
              "width": 948, "height": 802,
              "data": {"name": "b"},
              "title": {"text": "(b) TM模极化0 dBm时不同斜入射角度的吸收率", "orient": "bottom", "anchor": "middle", "offset": 52},
              "encoding": {
                "x": {"field": "f", "type": "quantitative", "scale": {"domain": [1, 5], "nice": false, "zero": false},
                      "axis": {"title": "频率 (GHz)", "values": [1, 1.5, 2, 2.5, 3, 3.5, 4, 4.5, 5], "labelExpr": "datum.value % 1 === 0 ? format(datum.value, 'd') : ''"}},
                "y": {"field": "v", "type": "quantitative", "scale": {"domain": [0, 1], "nice": false},
                      "axis": {"title": "吸收率", "values": [0, 0.1, 0.2, 0.3, 0.4, 0.5, 0.6, 0.7, 0.8, 0.9, 1], "labelExpr": "datum.value === 0 ? '0' : (round(datum.value * 10) % 2 === 0 ? format(datum.value, '.1f') : '')"}}
              },
              "layer": [
                {"mark": {"type": "line", "strokeWidth": 3},
                 "encoding": {"stroke": {"field": "t", "type": "nominal", "legend": null}}},
                {"mark": {"type": "point", "filled": true, "opacity": 1, "size": 480},
                 "encoding": {
                   "color": {"field": "t", "type": "nominal", "legend": null},
                   "shape": {"field": "t", "type": "nominal", "legend": null}
                 }}
              ]
            }
          ]
        },
        {
          "bounds": "flush",
          "spacing": 942,
          "hconcat": [
            {
              "width": 948, "height": 802,
              "data": {"name": "c"},
              "title": {"text": "(c) TE模极化−4 dBm时不同斜入射角度的吸收率", "orient": "bottom", "anchor": "middle", "offset": 52},
              "encoding": {
                "x": {"field": "f", "type": "quantitative", "scale": {"domain": [1, 5], "nice": false, "zero": false},
                      "axis": {"title": "频率 (GHz)", "values": [1, 1.5, 2, 2.5, 3, 3.5, 4, 4.5, 5], "labelExpr": "datum.value % 1 === 0 ? format(datum.value, 'd') : ''"}},
                "y": {"field": "v", "type": "quantitative", "scale": {"domain": [0, 1], "nice": false},
                      "axis": {"title": "吸收率", "values": [0, 0.1, 0.2, 0.3, 0.4, 0.5, 0.6, 0.7, 0.8, 0.9, 1], "labelExpr": "datum.value === 0 ? '0' : (round(datum.value * 10) % 2 === 0 ? format(datum.value, '.1f') : '')"}}
              },
              "layer": [
                {"mark": {"type": "line", "strokeWidth": 3},
                 "encoding": {"stroke": {"field": "t", "type": "nominal", "legend": null}}},
                {"mark": {"type": "point", "filled": true, "opacity": 1, "size": 480},
                 "encoding": {
                   "color": {"field": "t", "type": "nominal", "legend": null},
                   "shape": {"field": "t", "type": "nominal", "legend": null}
                 }}
              ]
            },
            {
              "width": 948, "height": 802,
              "data": {"name": "d"},
              "title": {"text": "(d) TM模极化−4 dBm时不同斜入射角度的吸收率", "orient": "bottom", "anchor": "middle", "offset": 52},
              "encoding": {
                "x": {"field": "f", "type": "quantitative", "scale": {"domain": [1, 5], "nice": false, "zero": false},
                      "axis": {"title": "频率 (GHz)", "values": [1, 1.5, 2, 2.5, 3, 3.5, 4, 4.5, 5], "labelExpr": "datum.value % 1 === 0 ? format(datum.value, 'd') : ''"}},
                "y": {"field": "v", "type": "quantitative", "scale": {"domain": [0, 1], "nice": false},
                      "axis": {"title": "吸收率", "values": [0, 0.1, 0.2, 0.3, 0.4, 0.5, 0.6, 0.7, 0.8, 0.9, 1], "labelExpr": "datum.value === 0 ? '0' : (round(datum.value * 10) % 2 === 0 ? format(datum.value, '.1f') : '')"}}
              },
              "layer": [
                {"mark": {"type": "line", "strokeWidth": 3},
                 "encoding": {"stroke": {"field": "t", "type": "nominal", "legend": null}}},
                {"mark": {"type": "point", "filled": true, "opacity": 1, "size": 480},
                 "encoding": {
                   "color": {"field": "t", "type": "nominal", "legend": null},
                   "shape": {"field": "t", "type": "nominal", "legend": null}
                 }}
              ]
            }
          ]
        }
      ]
    },
    {
      "width": 2744, "height": 64,
      "view": {"stroke": null},
      "data": {"name": "legend"},
      "encoding": {
        "x": {"field": "t", "type": "ordinal", "bandPosition": 0, "axis": null,
              "scale": {"type": "band", "domain": [0, 15, 30, 45, 60, 75], "paddingInner": 0, "paddingOuter": 1, "align": 0.557}}
      },
      "layer": [
        {"mark": {"type": "point", "shape": "M-1,0H1", "filled": false, "size": 9604, "strokeWidth": 3, "opacity": 1, "xOffset": 49},
         "encoding": {"stroke": {"field": "t", "type": "nominal", "legend": null}}},
        {"mark": {"type": "point", "filled": true, "opacity": 1, "size": 480, "xOffset": 49},
         "encoding": {
           "color": {"field": "t", "type": "nominal", "legend": null},
           "shape": {"field": "t", "type": "nominal", "legend": null}
         }},
        {"mark": {"type": "text", "text": "θ", "align": "left", "baseline": "middle", "dx": 112, "font": "Liberation Serif", "fontSize": 64, "fontStyle": "italic", "color": "black"}},
        {"mark": {"type": "text", "align": "left", "baseline": "middle", "dx": 144, "font": "Liberation Serif", "fontSize": 64, "color": "black"},
         "encoding": {"text": {"field": "rest", "type": "nominal"}}}
      ]
    }
  ]
}
